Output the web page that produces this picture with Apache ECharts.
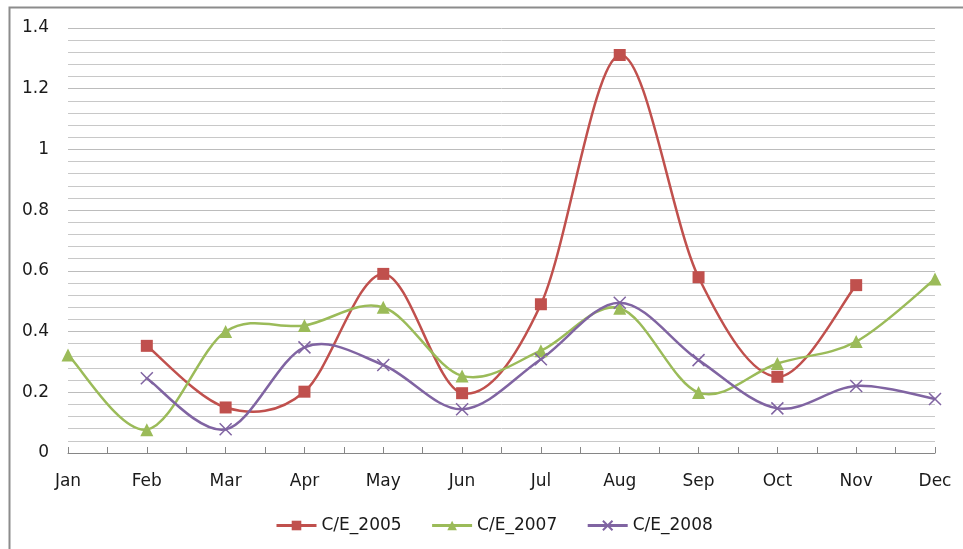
<!DOCTYPE html>
<html>
<head>
<meta charset="utf-8">
<script src="https://cdn.jsdelivr.net/npm/echarts@6/dist/echarts.min.js"></script>
<style>
  html, body { margin: 0; padding: 0; background: #fff; }
  #chart { width: 963px; height: 549px; }
</style>
</head>
<body>
<div id="chart"></div>
<script>
// 月份
const months = ["Jan", "Feb", "Mar", "Apr", "May", "Jun", "Jul", "Aug", "Sep", "Oct", "Nov", "Dec"];
// 各年份数据（null 表示缺测）
const ce2005 = [null, 0.353, 0.150, 0.202, 0.590, 0.197, 0.490, 1.311, 0.579, 0.251, 0.553, null];
const ce2007 = [0.323, 0.077, 0.400, 0.420, 0.480, 0.254, 0.337, 0.477, 0.199, 0.295, 0.367, 0.573];
const ce2008 = [null, 0.246, 0.078, 0.348, 0.290, 0.144, 0.309, 0.495, 0.306, 0.147, 0.221, 0.178];

const toPairs = (arr) => arr.map((v, i) => [i, v]);

const myChart = echarts.init(document.getElementById("chart"));

const textColor = "#1a1a1a";
const fontFamily = "'DejaVu Sans', sans-serif";

// 折线平滑：按 Excel 的方式（允许越过数据点）画三次贝塞尔，每个数据项画到下一项的一段
const curveSeries = (name, data, color) => ({
  name: name + "_curve",
  type: "custom",
  data: toPairs(data),
  z: 2,
  silent: true,
  renderItem: (params, api) => {
    const i = params.dataIndex;
    if (data[i] == null || data[i + 1] == null) return null;
    const p1 = api.coord([i, data[i]]);
    const p2 = api.coord([i + 1, data[i + 1]]);
    const p0 = data[i - 1] != null ? api.coord([i - 1, data[i - 1]]) : p1;
    const p3 = data[i + 2] != null ? api.coord([i + 2, data[i + 2]]) : p2;
    return {
      type: "bezierCurve",
      shape: {
        x1: p1[0],
        y1: p1[1],
        cpx1: p1[0] + (p2[0] - p0[0]) / 6,
        cpy1: p1[1] + (p2[1] - p0[1]) / 6,
        cpx2: p2[0] - (p3[0] - p1[0]) / 6,
        cpy2: p2[1] - (p3[1] - p1[1]) / 6,
        x2: p2[0],
        y2: p2[1],
      },
      style: { stroke: color, lineWidth: 2.5, fill: null, lineCap: "round" },
    };
  },
});

const markSeries = (name, data, color, symbol, symbolSize, extraItem) => ({
  name: name,
  type: "line",
  data: toPairs(data),
  z: 3,
  symbol: symbol,
  symbolSize: symbolSize,
  showSymbol: true,
  lineStyle: { color: color, width: 2.5, opacity: 0 },
  itemStyle: Object.assign({ color: color }, extraItem || {}),
  emphasis: { disabled: true },
});

const options = {
  animation: false,
  textStyle: { fontFamily: fontFamily },
  grid: { left: 68, right: 28, top: 28, bottom: 96 },
  // 外框
  graphic: [
    {
      type: "rect",
      left: 7,
      top: 5,
      shape: { x: 0, y: 0, width: 1000, height: 600 },
      style: { fill: "none", stroke: "#8c8c8c", lineWidth: 2 },
      silent: true,
    },
  ],
  legend: {
    top: 512,
    left: 270,
    itemWidth: 40,
    itemHeight: 12,
    itemGap: 29,
    lineStyle: { opacity: 1, width: 3 },
    textStyle: { color: textColor, fontSize: 17, fontFamily: fontFamily },
    data: ["C/E_2005", "C/E_2007", "C/E_2008"],
  },
  xAxis: {
    type: "value",
    min: 0,
    max: 11,
    interval: 1,
    axisLine: { show: true, lineStyle: { color: "#868686", width: 1 } },
    axisTick: { show: true, inside: true, length: 6, lineStyle: { color: "#868686" } },
    minorTick: { show: true, splitNumber: 2, length: 6, lineStyle: { color: "#868686" } },
    splitLine: { show: false },
    axisLabel: {
      color: textColor,
      fontSize: 17,
      margin: 20,
      formatter: (v) => months[v] || "",
    },
  },
  yAxis: {
    type: "value",
    min: 0,
    max: 1.4,
    interval: 0.2,
    axisLine: { show: false },
    axisTick: { show: false },
    axisLabel: { color: textColor, fontSize: 17, margin: 19 },
    splitLine: { show: true, lineStyle: { color: "#bcbcbc", width: 1 } },
    minorTick: { show: false, splitNumber: 5 },
    minorSplitLine: { show: true, lineStyle: { color: "#c8c8c8", width: 1 } },
  },
  series: [
    curveSeries("C/E_2005", ce2005, "#c0504d"),
    curveSeries("C/E_2007", ce2007, "#9bbb59"),
    curveSeries("C/E_2008", ce2008, "#8064a2"),
    markSeries("C/E_2005", ce2005, "#c0504d", "rect", 12),
    markSeries("C/E_2007", ce2007, "#9bbb59", "triangle", 13),
    markSeries("C/E_2008", ce2008, "#8064a2", "path://M0 0L10 10M10 0L0 10", 12, {
      borderColor: "#8064a2",
      borderWidth: 1.5,
    }),
  ],
};

myChart.setOption(options);
</script>
</body>
</html>
